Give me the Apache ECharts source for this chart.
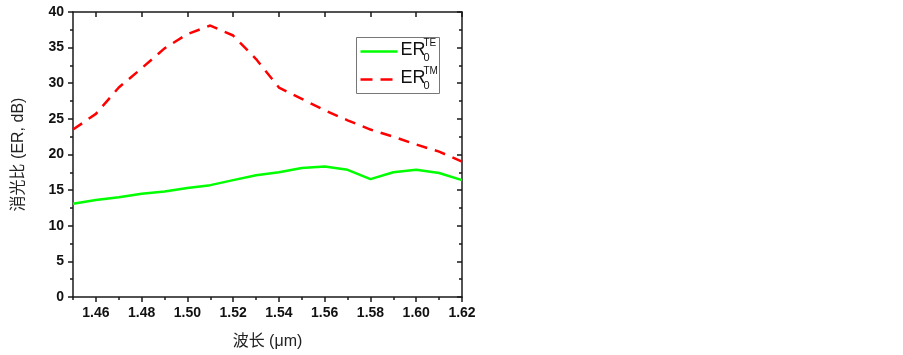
<!DOCTYPE html>
<html>
<head>
<meta charset="utf-8">
<script src="https://cdn.jsdelivr.net/npm/echarts@6/dist/echarts.min.js"></script>
<style>
  html, body { margin: 0; padding: 0; background: #fff; }
  #chart { width: 903px; height: 355px; }
</style>
</head>
<body>
<div id="chart"></div>
<script>
// wavelength (um)
var wavelength = [1.45, 1.46, 1.47, 1.48, 1.49, 1.50, 1.51, 1.52, 1.53, 1.54,
                  1.55, 1.56, 1.57, 1.58, 1.59, 1.60, 1.61, 1.62];
// extinction ratio, dB
var erTE = [13.1, 13.6, 14.0, 14.5, 14.8, 15.3, 15.7, 16.4, 17.1, 17.5,
            18.1, 18.3, 17.85, 16.55, 17.5, 17.85, 17.4, 16.4];
var erTM = [23.5, 25.7, 29.4, 32.1, 34.9, 36.9, 38.1, 36.7, 33.4, 29.4,
            27.8, 26.2, 24.8, 23.5, 22.5, 21.4, 20.4, 19.0];
var xMajorTicks = [1.46, 1.48, 1.50, 1.52, 1.54, 1.56, 1.58, 1.60, 1.62];
var xMinorTicks = [1.45, 1.47, 1.49, 1.51, 1.53, 1.55, 1.57, 1.59, 1.61];

var toPairs = function (xs, ys) {
    var res = [];
    for (var i = 0; i < xs.length; i++) {
        res.push([xs[i], ys[i]]);
    }
    return res;
};

var latin = 'Liberation Sans, Arial, sans-serif';
var cjk = 'Liberation Sans, Noto Sans CJK SC, sans-serif';
var frame = { color: '#1a1a1a', width: 1.5 };

var chart = echarts.init(document.getElementById('chart'));

var option = {
    backgroundColor: '#fff',
    animation: false,
    grid: { left: 73, right: 441, top: 12, bottom: 55, containLabel: false },
    xAxis: [{
        type: 'value',
        min: 1.45,
        max: 1.62,
        position: 'bottom',
        name: '波长 (μm)',
        nameLocation: 'middle',
        nameGap: 37,
        nameTextStyle: { fontFamily: cjk, fontSize: 16, color: '#222' },
        axisLine: { show: true, onZero: false, lineStyle: frame },
        axisTick: { show: true, inside: false, length: 5, customValues: xMajorTicks, lineStyle: frame },
        axisLabel: {
            customValues: xMajorTicks,
            margin: 9,
            fontFamily: latin, fontSize: 14, fontWeight: 'bold', color: '#111',
            formatter: function (v) { return v.toFixed(2); }
        },
        splitLine: { show: false }
    }, {
        // minor ticks on the bottom
        type: 'value',
        min: 1.45,
        max: 1.62,
        position: 'bottom',
        axisLine: { show: false },
        axisTick: { show: true, inside: false, length: 3, customValues: xMinorTicks, lineStyle: frame },
        axisLabel: { show: false },
        splitLine: { show: false }
    }, {
        // top frame, ticks inward
        type: 'value',
        min: 1.45,
        max: 1.62,
        position: 'top',
        axisLine: { show: true, onZero: false, lineStyle: frame },
        axisTick: { show: true, inside: true, length: 5, customValues: xMajorTicks, lineStyle: frame },
        axisLabel: { show: false },
        splitLine: { show: false }
    }, {
        type: 'value',
        min: 1.45,
        max: 1.62,
        position: 'top',
        axisLine: { show: false },
        axisTick: { show: true, inside: true, length: 3, customValues: xMinorTicks, lineStyle: frame },
        axisLabel: { show: false },
        splitLine: { show: false }
    }],
    yAxis: [{
        type: 'value',
        min: 0,
        max: 40,
        interval: 5,
        position: 'left',
        name: '消光比 (ER, dB)',
        nameLocation: 'middle',
        nameGap: 46,
        nameRotate: 90,
        nameTextStyle: { fontFamily: cjk, fontSize: 16, color: '#222' },
        axisLine: { show: true, onZero: false, lineStyle: frame },
        axisTick: { show: true, inside: false, length: 5, lineStyle: frame },
        minorTick: { show: true, splitNumber: 2, length: 3, lineStyle: frame },
        axisLabel: { margin: 9, fontFamily: latin, fontSize: 14, fontWeight: 'bold', color: '#111' },
        splitLine: { show: false }
    }, {
        type: 'value',
        min: 0,
        max: 40,
        interval: 5,
        position: 'right',
        axisLine: { show: true, onZero: false, lineStyle: frame },
        axisTick: { show: true, inside: true, length: 5, lineStyle: frame },
        minorTick: { show: true, splitNumber: 2, length: 3, lineStyle: frame },
        axisLabel: { show: false },
        splitLine: { show: false }
    }],
    graphic: [{
        type: 'group',
        left: 356,
        top: 37,
        children: [
            { type: 'rect', shape: { x: 0, y: 0, width: 83, height: 56 },
              style: { fill: '#fff', stroke: '#777', lineWidth: 1 } },
            { type: 'line', shape: { x1: 4, y1: 14, x2: 41, y2: 14 },
              style: { stroke: '#00ff00', lineWidth: 2.5 } },
            { type: 'text', style: { x: 44, y: 4, text: 'ER', font: '18px Liberation Sans', fill: '#111' } },
            { type: 'text', style: { x: 67, y: 1, text: 'TE', font: '10px Liberation Sans', fill: '#111' } },
            { type: 'text', style: { x: 67, y: 15, text: '0', font: '11px Liberation Sans', fill: '#111' } },
            { type: 'line', shape: { x1: 4, y1: 42, x2: 41, y2: 42 },
              style: { stroke: '#ff0000', lineWidth: 2.5, lineDash: [12, 8] } },
            { type: 'text', style: { x: 44, y: 32, text: 'ER', font: '18px Liberation Sans', fill: '#111' } },
            { type: 'text', style: { x: 67, y: 29, text: 'TM', font: '10px Liberation Sans', fill: '#111' } },
            { type: 'text', style: { x: 67, y: 43, text: '0', font: '11px Liberation Sans', fill: '#111' } }
        ]
    }],
    series: [{
        name: 'ER0TE',
        type: 'line',
        data: toPairs(wavelength, erTE),
        showSymbol: false,
        lineStyle: { color: '#00ff00', width: 2.5 },
        itemStyle: { color: '#00ff00' },
        z: 3
    }, {
        name: 'ER0TM',
        type: 'line',
        data: toPairs(wavelength, erTM),
        showSymbol: false,
        lineStyle: { color: '#ff0000', width: 2.5, type: [11, 8] },
        itemStyle: { color: '#ff0000' },
        z: 3
    }]
};

chart.setOption(option);
</script>
</body>
</html>
